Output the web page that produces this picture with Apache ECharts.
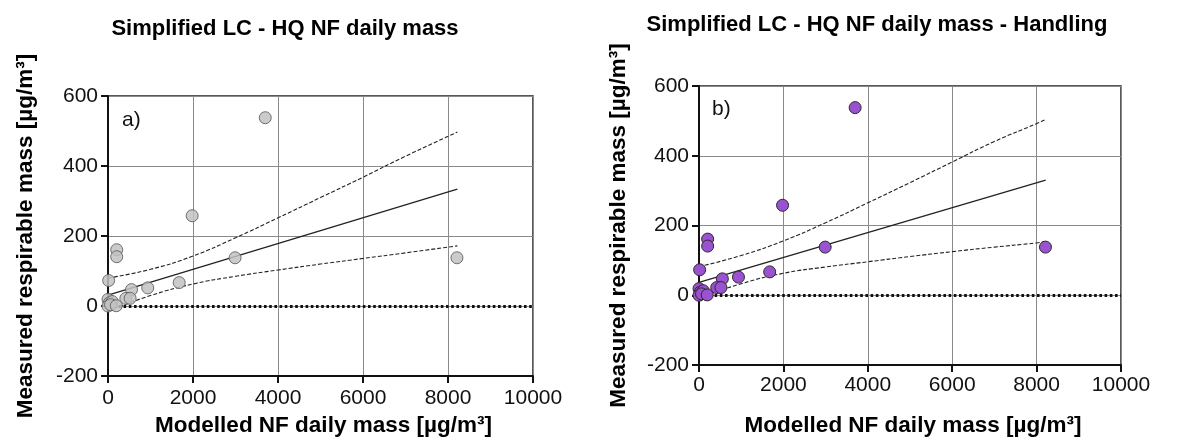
<!DOCTYPE html>
<html>
<head>
<meta charset="utf-8">
<script src="https://cdn.jsdelivr.net/npm/echarts@6/dist/echarts.min.js"></script>
<style>
html,body{margin:0;padding:0;background:#fff;}
#chart{width:1180px;height:442px;}
</style>
</head>
<body>
<div id="chart"></div>
<script>
// ---- data ----
const titleLeft = 'Simplified LC - HQ NF daily mass';
const titleRight = 'Simplified LC - HQ NF daily mass - Handling';
const xAxisTitle = 'Modelled NF daily mass [µg/m³]';
const yAxisTitle = 'Measured respirable mass [µg/m³]';

// measured points (same measurements in both panels)
const modelledNF = [3700, 1980, 205, 205, 15, 2990, 8210, 1675, 935, 553, 420, 520, 0, 30, 100, 0, 60, 195];
const measuredResp = [538, 258, 161, 141, 73, 138, 138, 67, 52, 47, 22, 22, 19, 9, 13, 0, 4, 1];

// panel a) regression line and 95% band
const fitX_a = [0, 8220];
const fitY_a = [31, 334];
const bandX_a = [0, 1000, 2000, 3000, 4000, 5000, 6000, 7000, 8220];
const upperY_a = [80, 105, 143, 195, 252, 310, 368, 428, 497];
const lowerY_a = [-14, 30, 63, 85, 103, 120, 136, 152, 172];

// panel b) regression line and 95% band
const fitX_b = [0, 8215];
const fitY_b = [37, 330];
const bandX_b = [0, 1000, 2000, 3000, 4000, 5000, 6000, 7000, 8000, 8215];
const upperY_b = [82, 114, 156, 208, 265, 323, 382, 441, 492, 504];
const lowerY_b = [-8, 33, 63, 81, 96, 111, 125, 138, 150, 154];

// axis ticks
const xMin = 0, xMax = 10000, xStep = 2000;
const yMin = -200, yMax = 600, yStep = 200;

const zip = (xs, ys) => xs.map((x, i) => [x, ys[i]]);

const FONT = '"Liberation Sans", Arial, sans-serif';

function xAxisCfg(idx, gap, labelMargin) {
  return {
    gridIndex: idx, type: 'value', min: xMin, max: xMax, interval: xStep,
    name: xAxisTitle, nameLocation: 'middle', nameGap: gap,
    nameTextStyle: {fontFamily: FONT, fontWeight: 'bold', fontSize: 22.5, color: '#000', padding: [0, 0, 0, 6]},
    axisLine: {show: true, onZero: false, lineStyle: {color: '#111', width: 2}},
    axisTick: {show: true, length: 7, lineStyle: {color: '#111', width: 2}},
    axisLabel: {fontFamily: FONT, fontSize: 21, color: '#111', margin: labelMargin, formatter: v => String(v)},
    splitLine: {show: true, lineStyle: {color: '#8a8a8a', width: 1}}
  };
}
function yAxisCfg(idx, gap) {
  return {
    gridIndex: idx, type: 'value', min: yMin, max: yMax, interval: yStep,
    name: yAxisTitle, nameLocation: 'middle', nameGap: gap, nameRotate: 90,
    nameTextStyle: {fontFamily: FONT, fontWeight: 'bold', fontSize: 22.5, color: '#000'},
    axisLine: {show: true, onZero: false, lineStyle: {color: '#111', width: 2}},
    axisTick: {show: true, length: 7, lineStyle: {color: '#111', width: 2}},
    axisLabel: {fontFamily: FONT, fontSize: 21, color: '#111', margin: 10},
    splitLine: {show: true, lineStyle: {color: '#8a8a8a', width: 1}}
  };
}

function lineSeries(idx, data, dashed) {
  return {
    type: 'line', xAxisIndex: idx, yAxisIndex: idx, data: data,
    showSymbol: false, symbol: 'none', smooth: dashed ? 0.5 : false, silent: true, z: 3,
    lineStyle: {color: '#222', width: dashed ? 1.1 : 1.3, type: dashed ? [4, 2] : 'solid'}
  };
}
function zeroLine(idx) {
  return {
    type: 'line', xAxisIndex: idx, yAxisIndex: idx, data: [], silent: true,
    markLine: {
      silent: true, symbol: ['none', 'none'], label: {show: false},
      lineStyle: {color: '#111', width: 3, type: [2.6, 2.6]},
      data: [{yAxis: 0}]
    }
  };
}

const option = {
  backgroundColor: '#fff',
  animation: false,
  title: [
    {text: titleLeft, left: 280, top: 13, textAlign: 'center',
     textStyle: {fontFamily: FONT, fontWeight: 'bold', fontSize: 22, color: '#000'}},
    {text: titleRight, left: 872, top: 9, textAlign: 'center',
     textStyle: {fontFamily: FONT, fontWeight: 'bold', fontSize: 22, color: '#000'}}
  ],
  graphic: [
    {type: 'text', left: 122, top: 110, style: {text: 'a)', font: '21px "Liberation Sans", Arial', fill: '#111'}},
    {type: 'text', left: 712, top: 99, style: {text: 'b)', font: '21px "Liberation Sans", Arial', fill: '#111'}}
  ],
  grid: [
    {left: 108, top: 96, width: 425, height: 284, show: true, borderColor: '#222', borderWidth: 1.5, containLabel: false},
    {left: 699, top: 86, width: 422, height: 283, show: true, borderColor: '#222', borderWidth: 1.5, containLabel: false}
  ],
  xAxis: [xAxisCfg(0, 32, 12), xAxisCfg(1, 49, 10)],
  yAxis: [yAxisCfg(0, 71), yAxisCfg(1, 69)],
  series: [
    zeroLine(0),
    lineSeries(0, zip(fitX_a, fitY_a), false),
    lineSeries(0, zip(bandX_a, upperY_a), true),
    lineSeries(0, zip(bandX_a, lowerY_a), true),
    {type: 'scatter', xAxisIndex: 0, yAxisIndex: 0, data: zip(modelledNF, measuredResp),
     symbolSize: 12, z: 5,
     itemStyle: {color: '#c2c2c2', borderColor: '#5a5a5a', borderWidth: 1, opacity: 0.85}},
    zeroLine(1),
    lineSeries(1, zip(fitX_b, fitY_b), false),
    lineSeries(1, zip(bandX_b, upperY_b), true),
    lineSeries(1, zip(bandX_b, lowerY_b), true),
    {type: 'scatter', xAxisIndex: 1, yAxisIndex: 1, data: zip(modelledNF, measuredResp),
     symbolSize: 12, z: 5,
     itemStyle: {color: '#9a52d0', borderColor: '#2a2a2a', borderWidth: 1, opacity: 1}}
  ]
};

const chart = echarts.init(document.getElementById('chart'), null, {renderer: 'canvas'});
chart.setOption(option);
</script>
</body>
</html>
